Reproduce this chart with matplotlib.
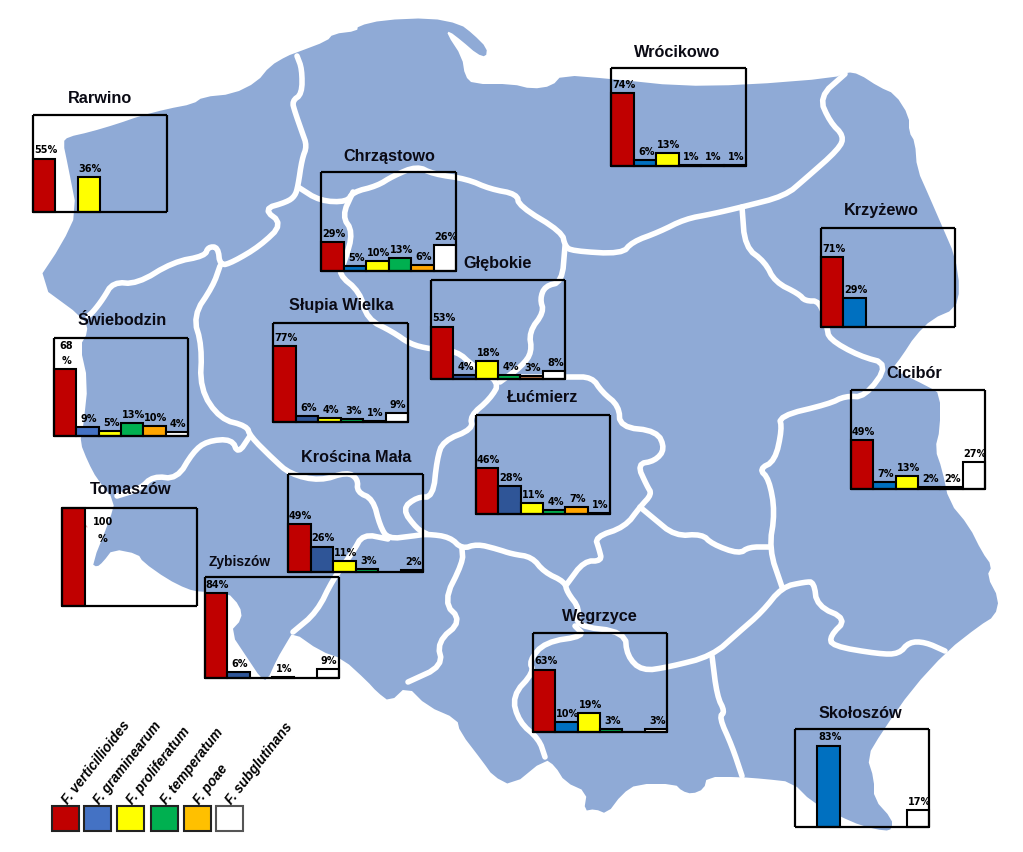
import numpy as np
import matplotlib
matplotlib.use("Agg")
import matplotlib.pyplot as plt
from matplotlib.patches import Polygon, Rectangle

W, H = 1023, 853

species = ["F. verticillioides", "F. graminearum", "F. proliferatum",
           "F. temperatum", "F. poae", "F. subglutinans"]

# percentages per site, same order as species, None = no bar
rarwino = [55, None, 36, None, None, None]
wrocikowo = [74, 6, 13, 1, 1, 1]
chrzastowo = [29, 5, 10, 13, 6, 26]
krzyzewo = [71, 29, None, None, None, None]
glebokie = [53, 4, 18, 4, 3, 8]
slupia = [77, 6, 4, 3, 1, 9]
swiebodzin = [68, 9, 5, 13, 10, 4]
cicibor = [49, 7, 13, 2, 2, 27]
lucmierz = [46, 28, 11, 4, 7, 1]
tomaszow = [100, None, None, None, None, None]
kroscina = [49, 26, 11, 3, None, 2]
zybiszow = [84, 6, None, 1, None, 9]
wegrzyce = [63, 10, 19, 3, None, 3]
skoloszow = [None, 83, None, None, None, 17]

RED = "#C00000"
NAVY = "#2F5597"
BLUE = "#0070C0"
YELLOW = "#FFFF00"
GREEN = "#00B050"
ORANGE = "#FFA500"
MAP = "#8FAAD6"

# name, values, box (x0, y0, x1, y1) in image pixels, title centre, colour of graminearum
sites = [
    ("Rarwino", rarwino, (33, 116, 167, 213), (100, 97), BLUE),
    ("Wrócikowo", wrocikowo, (611, 69, 746, 167), (677, 51), BLUE),
    ("Chrząstowo", chrzastowo, (321, 173, 456, 272), (389, 155), BLUE),
    ("Krzyżewo", krzyzewo, (821, 229, 955, 328), (881, 209), BLUE),
    ("Głębokie", glebokie, (431, 281, 565, 380), (498, 262), NAVY),
    ("Słupia Wielka", slupia, (273, 324, 408, 423), (341, 304), NAVY),
    ("Świebodzin", swiebodzin, (54, 339, 188, 437), (122, 319), "#4472C4"),
    ("Cicibór", cicibor, (851, 391, 985, 490), (914, 372), BLUE),
    ("Łućmierz", lucmierz, (476, 416, 610, 515), (543, 397), NAVY),
    ("Tomaszów", tomaszow, (62, 509, 197, 607), (131, 489), BLUE),
    ("Krościna Mała", kroscina, (288, 475, 423, 573), (356, 456), NAVY),
    ("Zybiszów", zybiszow, (205, 578, 339, 679), (240, 561), NAVY),
    ("Węgrzyce", wegrzyce, (533, 634, 667, 733), (600, 615), BLUE),
    ("Skołoszów", skoloszow, (795, 730, 929, 828), (860, 712), BLUE),
]

# map background, image pixels
outline = [
    (36, 284), (62, 245), (77, 213), (68, 167), (63, 143), (68, 138), (90, 133), (117, 125),
    (140, 117), (167, 110), (193, 105), (203, 98), (233, 95), (257, 83), (270, 67), (287, 57),
    (298, 53), (327, 42), (333, 35), (357, 32), (358, 27), (383, 21), (430, 19), (460, 25),
    (473, 35), (487, 49), (486, 58), (477, 55), (462, 42), (449, 32), (447, 35), (462, 58),
    (465, 77), (473, 85), (512, 85), (532, 90), (552, 87), (562, 76), (612, 80), (679, 87),
    (745, 86), (834, 79), (847, 73), (859, 75), (879, 88), (895, 95), (909, 117), (909, 133),
    (915, 143), (917, 170), (929, 197), (942, 227), (955, 257), (960, 290), (955, 310),
    (932, 320), (915, 337), (902, 357), (892, 370), (929, 388), (940, 395), (940, 430),
    (935, 450), (942, 470), (949, 503), (969, 527), (982, 553), (992, 567), (987, 577),
    (999, 600), (995, 617), (979, 627), (947, 652), (912, 690), (882, 733), (867, 758),
    (874, 780), (874, 800), (892, 820), (892, 830), (885, 832), (862, 827), (839, 817),
    (812, 803), (792, 783), (765, 780), (739, 778), (707, 778), (704, 790), (692, 795),
    (682, 792), (675, 785), (637, 785), (622, 795), (607, 815), (595, 810), (584, 812),
    (587, 793), (565, 783), (555, 767), (545, 760), (512, 787), (493, 777), (483, 763),
    (460, 733), (457, 720), (427, 707), (407, 687), (390, 703), (377, 693), (367, 682),
    (343, 660), (320, 652), (293, 633), (287, 643), (277, 660), (267, 682), (260, 678),
    (250, 663), (230, 633), (242, 620), (240, 607), (227, 593), (200, 593), (187, 590),
    (167, 580), (143, 563), (138, 555), (113, 550), (103, 563), (97, 568), (92, 565),
    (110, 520), (115, 502), (97, 480), (88, 463), (80, 443), (83, 430), (88, 383), (80, 347),
    (88, 333), (85, 320),
]

# voivodeship borders, image pixels
borders = [
    [(297, 57), (302, 70), (302, 95), (292, 102), (295, 113), (302, 133), (307, 147), (302, 160),
     (298, 187), (295, 197), (287, 203), (263, 210), (283, 225), (260, 247), (233, 263), (220, 267),
     (218, 248), (208, 248), (205, 257), (173, 263), (137, 285), (113, 283), (103, 300), (93, 313), (88, 317)],
    [(220, 267), (213, 287), (193, 317), (202, 347), (200, 390), (220, 420), (247, 427), (250, 437),
     (273, 460), (290, 475), (320, 482), (347, 473), (358, 480), (357, 493), (373, 500), (380, 527),
     (388, 540), (413, 537), (427, 535), (450, 538), (462, 550), (477, 545), (497, 550), (512, 555),
     (532, 558), (544, 573), (565, 583), (567, 593), (580, 610), (575, 627), (625, 633), (627, 657),
     (642, 672), (669, 668), (712, 657), (739, 633), (762, 613), (782, 588), (805, 583), (814, 583),
     (817, 607), (847, 620), (830, 637), (832, 647), (879, 655), (899, 655), (909, 643), (925, 643), (945, 652)],
    [(250, 437), (238, 455), (232, 440), (207, 442), (193, 453), (177, 480), (153, 477), (140, 490), (117, 497)],
    [(388, 540), (363, 535), (353, 553), (333, 580), (317, 613), (293, 633)],
    [(782, 588), (769, 550), (775, 513), (769, 480), (759, 470), (775, 462), (782, 430), (779, 417),
     (829, 405), (845, 397), (865, 398), (889, 365), (859, 357), (829, 340), (827, 328), (820, 302),
     (805, 302), (799, 295), (775, 283), (765, 263), (745, 248), (742, 208)],
    [(845, 75), (819, 98), (830, 123), (844, 137), (839, 150), (805, 180), (785, 197), (742, 208),
     (712, 215), (685, 220), (659, 233), (632, 243), (622, 255), (572, 252), (565, 247), (562, 233),
     (519, 207), (517, 195), (490, 190), (467, 180), (433, 175), (417, 167), (393, 177), (377, 187),
     (353, 193), (347, 203), (320, 202), (298, 188)],
    [(353, 193), (342, 217), (353, 233), (345, 262), (338, 275), (360, 293), (367, 320), (393, 333),
     (410, 345), (430, 350), (457, 352), (473, 367), (500, 383), (490, 400), (470, 417), (473, 430),
     (443, 442), (437, 460), (433, 498), (417, 498), (402, 510), (417, 530), (427, 535)],
    [(565, 247), (562, 283), (545, 287), (540, 300), (544, 313), (529, 333), (532, 353), (522, 367), (500, 383)],
    [(522, 378), (569, 378), (592, 378), (602, 393), (619, 407), (620, 428), (657, 432), (665, 450),
     (655, 462), (637, 465), (647, 487), (652, 495), (640, 508), (625, 528), (595, 538), (599, 550),
     (602, 562), (584, 562), (567, 585)],
    [(640, 508), (652, 518), (675, 537), (702, 535), (712, 545), (739, 555), (749, 548), (769, 548)],
    [(712, 657), (717, 697), (725, 713), (719, 718), (732, 747), (742, 777)],
    [(575, 627), (585, 637), (545, 643), (529, 662), (534, 673), (512, 697), (519, 723), (539, 740), (545, 758)],
    [(462, 550), (463, 563), (443, 603), (462, 622), (437, 643), (443, 667), (408, 683)],
]


def smooth(pts, closed=False, rounds=2):
    # corner cutting so the traced lines do not look like polygons
    pts = np.array(pts, dtype=float)
    for _ in range(rounds):
        if closed:
            a, b = pts, np.roll(pts, -1, axis=0)
            pts = np.column_stack([0.75 * a + 0.25 * b, 0.25 * a + 0.75 * b]).reshape(-1, 2)
        else:
            a, b = pts[:-1], pts[1:]
            mid = np.column_stack([0.75 * a + 0.25 * b, 0.25 * a + 0.75 * b]).reshape(-1, 2)
            pts = np.vstack([pts[0], mid, pts[-1]])
    return pts


plt.rcParams["font.family"] = ["Liberation Sans", "DejaVu Sans"]

fig = plt.figure(figsize=(W / 100, H / 100), dpi=100)
bg = fig.add_axes([0, 0, 1, 1])
bg.set_xlim(0, W)
bg.set_ylim(H, 0)
bg.axis("off")

bg.add_patch(Polygon(smooth(outline, closed=True, rounds=1), closed=True, fc=MAP, ec="none"))
for b in borders:
    p = smooth(b)
    bg.plot(p[:, 0], p[:, 1], color="white", lw=4, solid_capstyle="round", solid_joinstyle="round")

# site names
for name, vals, box, pos, blue in sites:
    size = 9.9 if name == "Zybiszów" else 11.7
    bg.text(pos[0], pos[1] + 1, name, ha="center", va="center", fontsize=size, fontweight="bold",
            color="#0a0a14", zorder=5)

# one small bar chart per site
for name, vals, box, pos, blue in sites:
    x0, y0, x1, y1 = box
    ax = fig.add_axes([x0 / W, 1 - y1 / H, (x1 - x0) / W, (y1 - y0) / H])
    ax.patch.set_alpha(0)
    cols = [RED, blue, YELLOW, GREEN, ORANGE, "white"]
    if name == "Głębokie":
        cols[4] = "#C0784A"
    for i, v in enumerate(vals):
        if v is None:
            continue
        ax.bar(i, v, width=1, color=cols[i], edgecolor="black", linewidth=1.5, clip_on=False)
        txt = f"{v}%"
        if v >= 68 and name in ("Świebodzin", "Tomaszów"):
            txt = f"{v}\n%"
        if name == "Tomaszów":
            ax.annotate(txt, (i + 1, 92), xytext=(5, 0), textcoords="offset points", ha="center", va="top",
                        fontsize=7, fontweight="bold", family="DejaVu Sans", linespacing=1.9)
            continue
        ax.annotate(txt, (i, v), xytext=(1, 3), textcoords="offset points", ha="center", va="bottom",
                    fontsize=7, fontweight="bold", family="DejaVu Sans", linespacing=1.7)
    ax.set_xlim(-0.5, 5.5)
    ax.set_ylim(0, 100)
    ax.set_xticks([])
    ax.set_yticks([])
    for s in ax.spines.values():
        s.set_linewidth(1.6)
        s.set_color("black")
        s.set_capstyle("butt")

# thin leader line over the Tomaszów bar
bg.plot([73, 87], [509, 528], color="#e8a0a0", lw=0.7, zorder=6)

# legend
legend_x = [52, 84, 117, 151, 184, 216]
legend_cols = [RED, "#4472C4", YELLOW, GREEN, "#FFC000", "white"]
for i, sp in enumerate(species):
    edge = "#555555" if i == 5 else "#222222"
    bg.add_patch(Rectangle((legend_x[i], 807), 27, 25, fc=legend_cols[i], ec=edge, lw=1.5))
    bg.text(legend_x[i] + 16, 805, sp, rotation=52, rotation_mode="anchor", ha="left", va="baseline",
            fontsize=9.8, fontweight="bold", fontstyle="italic", color="black")

fig.savefig("out.png", dpi=100)
